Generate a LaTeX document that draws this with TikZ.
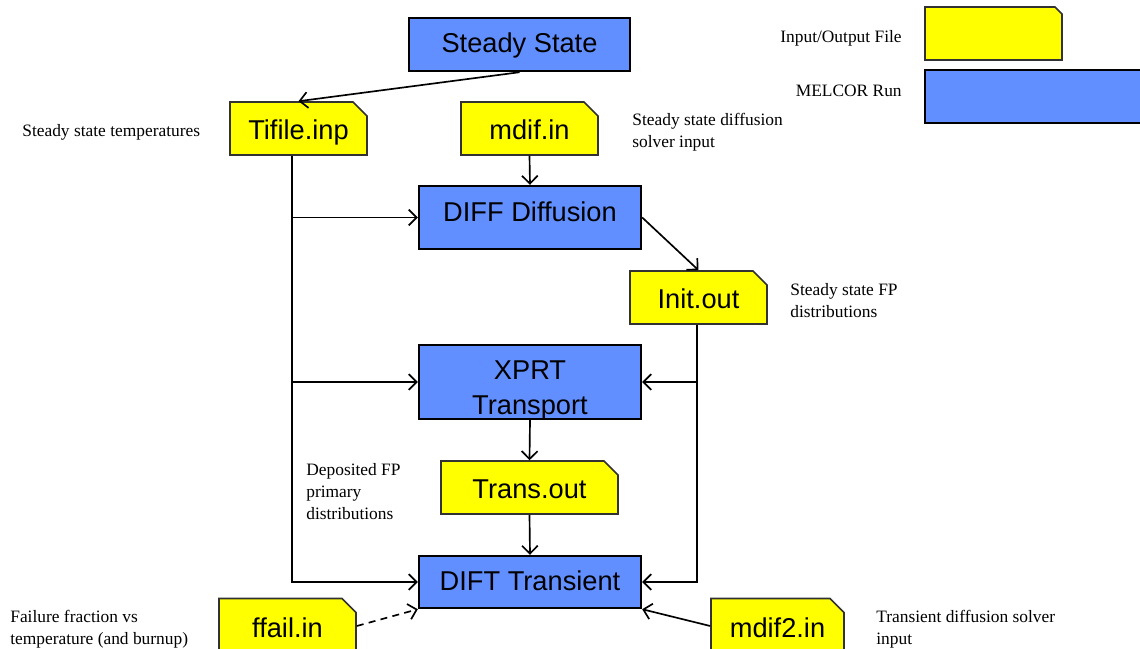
\documentclass[tikz,border=0pt]{standalone}
\usepackage{fontspec}
\setmainfont{Liberation Serif}
\newfontfamily\nodefont{Liberation Sans}
\usetikzlibrary{arrows.meta,shapes.misc}
\definecolor{runblue}{RGB}{98,143,255}
\definecolor{fileyellow}{RGB}{255,255,0}
\definecolor{fileborder}{RGB}{50,50,50}
\begin{document}
\begin{tikzpicture}[x=0.02cm,y=-0.02cm,
  run/.style={draw=black,line width=1.4pt,fill=runblue,inner sep=0pt,
    font=\nodefont\fontsize{15.5}{19.8}\selectfont,align=center},
  file/.style={chamfered rectangle,chamfered rectangle corners=north east,
    chamfered rectangle xsep=0.14cm,chamfered rectangle ysep=0.14cm,
    draw=fileborder,line width=0.9pt,fill=fileyellow,inner sep=0pt,
    font=\nodefont\fontsize{15.5}{19.8}\selectfont,
    text height=12.8pt,text depth=0pt,
    minimum width=2.74cm,minimum height=1.06cm},
  lbl/.style={inner sep=0pt,align=left,font=\fontsize{9.9}{12.5}\selectfont},
  arr/.style={draw=black,line width=0.95pt,-{Straight Barb[length=4.5pt,width=9pt]}}
]
\clip (0,0) rectangle (1140,649);
\fill[white] (0,0) rectangle (1140,649);

% run boxes
\node[run,minimum width=4.42cm,minimum height=1.06cm,text height=9.4pt,text depth=0pt] (ss) at (519.5,44.5) {Steady State};
\node[run,minimum width=4.44cm,minimum height=1.26cm,text height=4.9pt,text depth=0pt] (diff) at (530,217.5) {DIFF Diffusion};
\node[run,minimum width=4.44cm,minimum height=1.48cm] (xprt) at (530,382)
  {\raisebox{-8pt}[0pt][0pt]{\begin{tabular}{@{}c@{}}XPRT\\Transport\end{tabular}}};
\node[run,minimum width=4.44cm,minimum height=1.04cm,text height=10pt,text depth=0pt] (dift) at (530,582) {DIFT Transient};

% file boxes
\node[file] (tif) at (298.5,128.5) {Tifile.inp};
\node[file] (mdif) at (529.5,128.5) {mdif.in};
\node[file] (init) at (698.5,297.5) {Init.out};
\node[file,minimum width=3.54cm] (trans) at (529.5,487.5) {Trans.out};
\node[file,minimum height=1.1cm] (ffail) at (287.5,626) {ffail.in};
\node[file,minimum width=2.66cm,minimum height=1.1cm] (mdiftwo) at (777.5,626) {mdif2.in};

% legend
\node[file] (legfile) at (993.5,33.5) {};
\node[run,minimum width=4.4cm,minimum height=1.06cm] (legrun) at (1035,96.5) {};
\node[lbl,anchor=east] (legfiletxt) at (902,38) {Input/Output File};
\node[lbl,anchor=east] (legruntxt) at (902,90.5) {MELCOR Run};

% labels
\node[lbl,anchor=west] (l1) at (22,132) {Steady state temperatures};
\node[lbl,anchor=west] (l2) at (632,132) {Steady state diffusion\\solver input};
\node[lbl,anchor=west] (l3) at (790,300.5) {Steady state FP\\distributions};
\node[lbl,anchor=west] (l4) at (306,491.5) {Deposited FP\\primary\\distributions};
\node[lbl,anchor=west] (l5) at (10,629) {Failure fraction vs\\temperature (and burnup)};
\node[lbl,anchor=west] (l6) at (876,629) {Transient diffusion solver\\input};

% trunks
\coordinate (lt) at (292,582);
\coordinate (rt) at (697,582);

% connectors
\draw[arr] (ss.south) -- (tif.north);
\draw[arr] (mdif.south) -- (diff.north);
\draw[arr] (tif.south -| lt) |- (dift.west);
\draw[arr] (lt |- diff.west) -- (diff.west);
\draw[arr] (lt |- xprt.west) -- (xprt.west);
\draw[arr] (diff.east) -- (init.north);
\draw[arr] (init.south -| rt) |- (dift.east);
\draw[arr] (rt |- xprt.east) -- (xprt.east);
\draw[arr] (xprt.south) -- (trans.north);
\draw[arr] (trans.south) -- (dift.north);
\draw[arr,dash pattern=on 4pt off 3pt] (ffail.east) -- (dift.south west);
\draw[arr] (mdiftwo.west) -- (dift.south east);
\end{tikzpicture}
\end{document}
